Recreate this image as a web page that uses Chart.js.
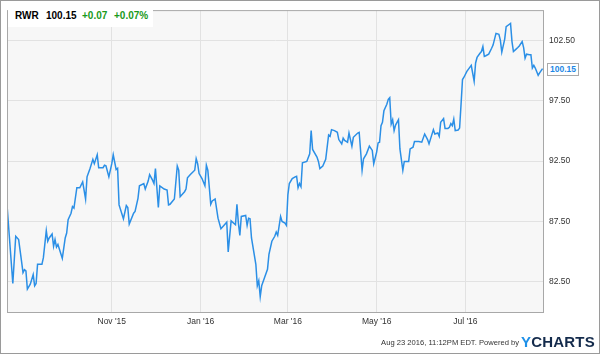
<!DOCTYPE html>
<html>
<head>
<meta charset="utf-8">
<script src="https://cdn.jsdelivr.net/npm/chart.js@4.4.1/dist/chart.umd.min.js"></script>
<style>
  html, body { margin:0; padding:0; background:#fff; }
  #wrap { position:relative; width:600px; height:354px; overflow:hidden; font-family:Arial, "Liberation Sans", sans-serif; }
  #chart { position:absolute; left:0; top:0; }
  .hdr { position:absolute; top:10px; font-size:10px; font-weight:bold; line-height:12px; white-space:nowrap; }
  .up { color:#1a9a1a; }
  #hdrBox { position:absolute; left:8px; top:8px; width:145px; height:19px; background:#fff; }
  #lastTag { position:absolute; left:547px; height:11px; padding:0 2px; line-height:11px; font-size:8.5px; font-weight:bold; color:#1e88e5; background:#fff; border:1px solid #aaa; }
  #foot { position:absolute; right:81px; top:338px; font-size:7.6px; color:#333; white-space:nowrap; }
  #logo { position:absolute; left:521px; top:333px; font-size:15px; font-weight:bold; letter-spacing:0.2px; color:#142b4c; }
  #logo span { color:#1e90e8; }
</style>
</head>
<body>
<div id="wrap">
  <canvas id="chart" width="600" height="354"></canvas>
  <div id="hdrBox"></div>
  <div class="hdr" style="left:15px">RWR</div>
  <div class="hdr" style="left:46px">100.15</div>
  <div class="hdr up" style="left:82px">+0.07</div>
  <div class="hdr up" style="left:114px">+0.07%</div>
  <div id="lastTag">100.15</div>
  <div id="foot">Aug 23 2016, 11:12PM EDT. Powered by</div>
  <div id="logo"><span>Y</span>CHARTS</div>
</div>
<script>
/* RWR daily close, Aug 21 2015 - Aug 23 2016
   x = days since Aug 21 2015 */
const dayIdx = [
  0, 4, 6, 8, 10, 11, 12, 13, 14, 16, 18, 19, 20, 21, 24, 25, 27, 28, 29, 31,
  32, 33, 34, 35, 38, 40, 41, 42, 44, 45, 46, 48, 50, 52, 54, 55, 57, 59, 60, 62,
  63, 66, 67, 68, 70, 72, 73, 75, 76, 77, 80, 82, 83, 84, 87, 88, 90, 91, 94, 95,
  97, 98, 100, 101, 102, 104, 105, 108, 110, 111, 112, 115, 117, 118, 119, 122, 123, 124, 126, 129,
  130, 131, 132, 134, 136, 137, 138, 140, 141, 143, 145, 147, 149, 151, 152, 154, 157, 158, 159, 160,
  161, 164, 165, 166, 167, 168, 171, 172, 173, 174, 175, 177, 179, 180, 182, 184, 185, 186, 188, 189,
  191, 192, 193, 194, 196, 198, 199, 200, 201, 202, 203, 206, 208, 209, 210, 213, 214, 215, 217, 219,
  221, 222, 223, 225, 227, 228, 230, 231, 232, 234, 235, 237, 238, 241, 242, 244, 245, 247, 249, 251,
  252, 254, 255, 256, 257, 258, 259, 261, 262, 263, 264, 265, 266, 267, 269, 270, 272, 273, 276, 277,
  279, 280, 283, 285, 287, 289, 290, 293, 294, 296, 297, 298, 300, 301, 303, 304, 305, 306, 307, 308,
  310, 311, 312, 313, 314, 316, 318, 319, 321, 322, 323, 325, 326, 327, 328, 329, 331, 333, 334, 336,
  338, 339, 340, 342, 343, 345, 346, 347, 348, 350, 351, 352, 354, 355, 356, 357, 359, 360, 361, 362,
  363, 365, 366, 368
];
const closePrice = [
  88.87, 82.36, 86.27, 86.00, 84.20, 83.26, 83.50, 83.40, 81.90, 82.30, 83.10, 82.17, 82.36, 83.95, 83.95, 84.50, 86.74, 85.86, 86.13, 86.46,
  85.45, 86.00, 85.37, 85.59, 84.44, 86.13, 86.54, 87.64, 88.18, 88.73, 88.60, 90.29, 90.29, 90.78, 89.36, 91.19, 91.87, 92.64, 92.28, 93.02,
  91.95, 91.95, 92.15, 92.10, 91.19, 92.28, 93.02, 91.80, 91.90, 88.87, 87.72, 88.81, 88.65, 87.28, 88.18, 88.32, 89.41, 90.45, 90.64, 90.18,
  90.84, 91.38, 90.92, 90.64, 91.87, 88.65, 90.45, 90.18, 90.10, 88.87, 88.92, 89.36, 92.09, 91.74, 89.55, 89.96, 90.18, 91.11, 91.38, 91.74,
  92.69, 92.28, 91.46, 91.05, 90.45, 92.15, 91.74, 88.92, 89.20, 89.36, 87.77, 86.90, 87.17, 87.44, 84.98, 87.55, 87.23, 88.92, 87.36, 86.35,
  87.91, 87.99, 87.17, 87.77, 87.72, 86.13, 83.95, 82.17, 82.58, 81.27, 82.17, 82.85, 83.54, 84.77, 85.86, 86.27, 86.62, 86.35, 87.91, 87.50,
  87.36, 87.17, 89.69, 90.64, 91.05, 91.19, 91.24, 90.29, 90.64, 90.37, 92.36, 92.47, 93.10, 95.02, 93.46, 92.83, 92.47, 91.87, 92.09, 92.64,
  94.66, 94.55, 95.10, 95.02, 94.88, 94.28, 93.92, 94.39, 94.20, 94.06, 94.82, 93.73, 94.47, 94.82, 94.88, 91.74, 92.69, 93.10, 93.73, 93.38,
  92.28, 93.24, 94.00, 94.06, 95.43, 95.70, 96.66, 97.20, 97.61, 97.75, 95.56, 95.92, 95.02, 95.48, 95.92, 93.50, 91.74, 92.47, 92.47, 93.50,
  93.65, 94.11, 94.11, 94.06, 94.74, 94.28, 93.92, 95.10, 94.74, 94.82, 94.55, 95.70, 96.02, 95.20, 95.20, 95.30, 95.60, 95.43, 95.97, 95.02,
  95.07, 95.23, 97.20, 99.25, 99.44, 99.93, 100.26, 100.42, 99.11, 100.62, 101.08, 101.43, 101.57, 101.98, 101.16, 101.22, 101.35, 101.84, 102.10, 103.07,
  102.99, 102.52, 101.52, 102.60, 103.62, 103.81, 103.90, 102.39, 101.57, 101.79, 101.90, 102.03, 102.39, 101.90, 101.02, 101.35, 101.30, 101.30, 100.20, 100.42,
  100.20, 99.60, 99.80, 100.15
];
const monthDays = [72, 133, 193, 254, 315];
const monthLabels = ["Nov '15", "Jan '16", "Mar '16", "May '16", "Jul '16"];
const priceTicks = [82.5, 87.5, 92.5, 97.5, 102.5];
const lastPrice = 100.15;

// plot background + frames
const framePlugin = {
  id: 'frame',
  beforeDraw(chart) {
    const { ctx, chartArea: a } = chart;
    ctx.save();
    ctx.fillStyle = '#fff';
    ctx.fillRect(0, 0, chart.width, chart.height);
    ctx.fillStyle = '#f7f7f7';
    ctx.fillRect(a.left, a.top, a.right - a.left, a.bottom - a.top);
    ctx.restore();
  },
  afterDraw(chart) {
    const { ctx, chartArea: a } = chart;
    ctx.save();
    ctx.lineWidth = 1;
    ctx.strokeStyle = '#a8a8a8';
    ctx.strokeRect(a.left + 0.5, a.top + 0.5, a.right - a.left - 1, a.bottom - a.top);
    ctx.strokeStyle = '#9a9a9a';
    ctx.strokeRect(0.5, 0.5, chart.width - 1, chart.height - 1);
    ctx.restore();
  }
};

const chart = new Chart(document.getElementById('chart'), {
  type: 'line',
  data: {
    datasets: [{
      data: dayIdx.map((d, i) => ({ x: d, y: closePrice[i] })),
      borderColor: '#2b8fe6',
      borderWidth: 1.5,
      pointRadius: 0,
      tension: 0,
      fill: false
    }]
  },
  options: {
    responsive: false,
    devicePixelRatio: 1,
    animation: false,
    layout: { padding: { left: 7, top: 7, right: 0, bottom: 0 } },
    plugins: { legend: { display: false }, tooltip: { enabled: false } },
    scales: {
      x: {
        type: 'linear',
        min: 0,
        max: 369,
        afterBuildTicks: s => { s.ticks = monthDays.map(v => ({ value: v })); },
        afterFit: s => { s.height = 42; },
        grid: { color: '#e2e2e2', drawTicks: false },
        border: { display: false },
        ticks: {
          padding: 5,
          maxRotation: 0,
          autoSkip: false,
          color: '#333',
          font: { family: 'Arial, "Liberation Sans", sans-serif', size: 8.5 },
          callback: v => monthLabels[monthDays.indexOf(v)]
        }
      },
      y: {
        position: 'right',
        min: 80,
        max: 105,
        afterBuildTicks: s => { s.ticks = priceTicks.map(v => ({ value: v })); },
        afterFit: s => { s.width = 56; },
        grid: { color: '#e2e2e2', drawTicks: false },
        border: { display: false },
        ticks: {
          padding: 5,
          color: '#333',
          font: { family: 'Arial, "Liberation Sans", sans-serif', size: 8.5 },
          callback: v => v.toFixed(2)
        }
      }
    }
  },
  plugins: [framePlugin]
});

// last price tag on the right axis
const tag = document.getElementById('lastTag');
tag.style.top = (chart.scales.y.getPixelForValue(lastPrice) - 6) + 'px';
</script>
</body>
</html>
